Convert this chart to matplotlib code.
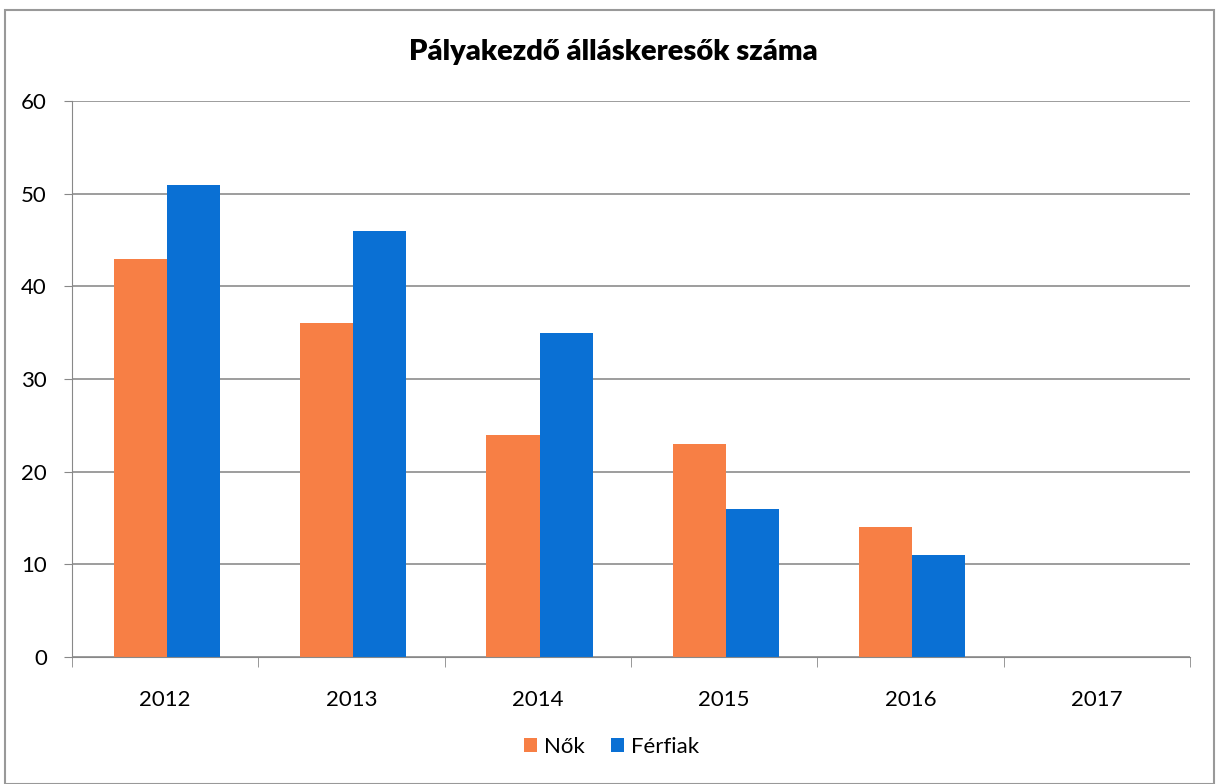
import numpy as np
import matplotlib.pyplot as plt
from matplotlib.patches import Rectangle

years = ['2012', '2013', '2014', '2015', '2016', '2017']
nok = [43, 36, 24, 23, 14, np.nan]
ferfiak = [51, 46, 35, 16, 11, np.nan]

plt.rcParams['font.family'] = ['Lato', 'DejaVu Sans']

fig = plt.figure(figsize=(12.18, 7.84), dpi=100)
ax = fig.add_axes([0.059, 0.162, 0.918, 0.709])

x = np.arange(len(years))
w = 0.285
ax.bar(x - w / 2 + 0.01, nok, w, color='#F77F45', label='Nők')
ax.bar(x + w / 2 + 0.01, ferfiak, w, color='#0A70D4', label='Férfiak')

ax.set_xlim(-0.5, len(years) - 0.5)
ax.set_ylim(0, 60)
ax.set_yticks(range(0, 61, 10))
ax.set_xticks(x)
ax.set_xticklabels(years)
ax.set_xticks(np.arange(-0.5, len(years), 1), minor=True)
ax.tick_params(axis='x', which='major', length=0, pad=24, labelsize=16)
ax.tick_params(axis='x', which='minor', length=7, color='#888888')
ax.tick_params(axis='y', length=6, color='#888888', pad=12, labelsize=16)

ax.grid(axis='y', color='#8c8c8c', linewidth=1.2)
ax.set_axisbelow(True)
for s in ['top', 'right']:
    ax.spines[s].set_visible(False)
ax.spines['left'].set_color('#888888')
ax.spines['bottom'].set_color('#888888')

fig.text(0.504, 0.934, 'Pályakezdő álláskeresők száma', ha='center', va='center',
         fontsize=21, fontweight='heavy')

fig.legend(loc='center', bbox_to_anchor=(0.502, 0.047), ncol=2, frameon=False,
           fontsize=16, handlelength=0.6, handleheight=0.6, handletextpad=0.3,
           columnspacing=1.2)

fig.patches.append(Rectangle((0.004, 0.0), 0.993, 0.987, transform=fig.transFigure,
                             fill=False, edgecolor='#999999', linewidth=1.5))

fig.savefig('out.png', dpi=100)
